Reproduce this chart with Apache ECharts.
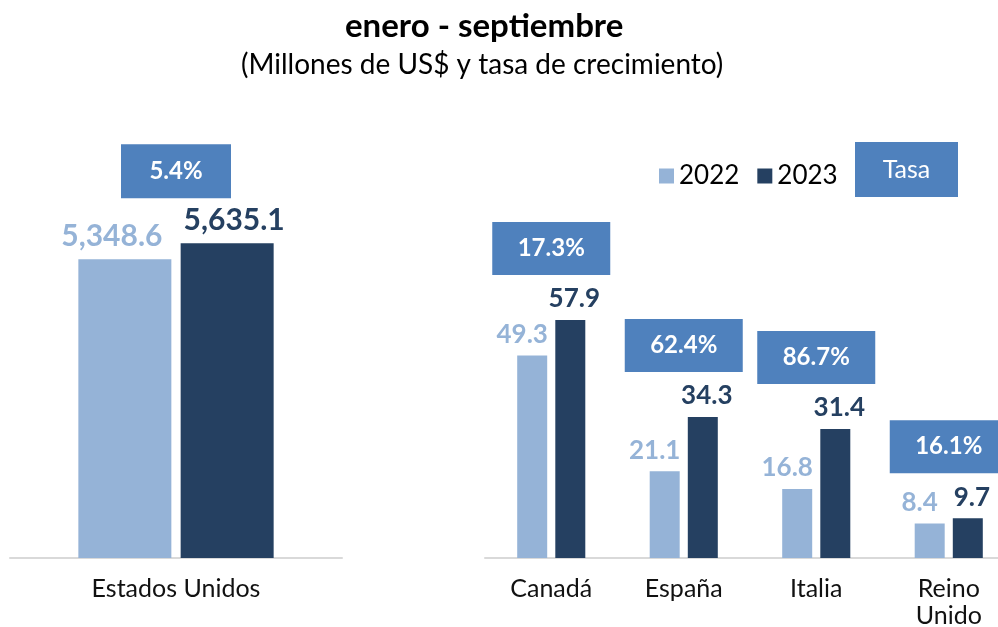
<!DOCTYPE html>
<html>
<head>
<meta charset="utf-8">
<script src="https://cdn.jsdelivr.net/npm/echarts@6/dist/echarts.min.js"></script>
<style>
  html, body { margin: 0; padding: 0; background: #fff; }
  #chart { width: 998px; height: 627px; }
</style>
</head>
<body>
<div id="chart"></div>
<script>
  // datos
  const catUS = ['Estados Unidos']
  const us2022 = [5348.6]
  const us2023 = [5635.1]
  const tasaUS = [5.4]

  const catOtros = ['Canadá', 'España', 'Italia', 'Reino\nUnido']
  const otros2022 = [49.3, 21.1, 16.8, 8.4]
  const otros2023 = [57.9, 34.3, 31.4, 9.7]
  const tasaOtros = [17.3, 62.4, 86.7, 16.1]

  const claro = '#95B3D7'
  const oscuro = '#254061'
  const azul = '#4F81BD'
  const fuente = 'Lato, "Noto Sans", sans-serif'

  const fmt = v => v.toLocaleString('en-US', { minimumFractionDigits: 1, maximumFractionDigits: 1 })

  function etiqueta(color, dx, size) {
    return {
      show: true,
      position: 'top',
      distance: 8,
      offset: [dx, 0],
      color: color,
      fontFamily: fuente,
      fontWeight: 'bold',
      fontSize: size,
      formatter: p => fmt(p.value)
    }
  }

  // caja de tasa encima de cada grupo de barras
  function cajaTasa(w, h) {
    return function (params, api) {
      const p = api.coord([api.value(0), api.value(1)])
      const cx = p[0]
      const bottom = p[1] - 45
      return {
        type: 'group',
        children: [{
          type: 'rect',
          shape: { x: cx - w / 2, y: bottom - h, width: w, height: h },
          style: { fill: azul }
        }, {
          type: 'text',
          style: {
            x: cx, y: bottom - h / 2,
            text: api.value(2).toFixed(1) + '%',
            fill: '#fff',
            font: 'bold 24px ' + fuente,
            align: 'center',
            verticalAlign: 'middle'
          }
        }]
      }
    }
  }

  const ejeX = (idx, data) => ({
    type: 'category',
    gridIndex: idx,
    data: data,
    axisTick: { show: false },
    axisLine: { lineStyle: { color: '#D9D9D9', width: 2 } },
    axisLabel: { color: '#111', fontFamily: fuente, fontSize: 25, margin: 17, lineHeight: 27 }
  })

  const dom = echarts.init(document.getElementById('chart'))
  const option = {
    animation: false,
    graphic: [{
      type: 'text',
      left: 345, top: 10,
      style: { text: 'enero - septiembre', fill: '#000', font: 'bold 33px ' + fuente }
    }, {
      type: 'text',
      left: 241, top: 51,
      style: { text: '(Millones de US$ y tasa de crecimiento)', fill: '#000', font: '28px ' + fuente }
    }, {
      type: 'group',
      left: 855, top: 142,
      children: [{
        type: 'rect',
        shape: { x: 0, y: 0, width: 103, height: 55 },
        style: { fill: azul }
      }, {
        type: 'text',
        style: { x: 51.5, y: 27.5, text: 'Tasa', fill: '#fff', font: '25px ' + fuente, align: 'center', verticalAlign: 'middle' }
      }]
    }],
    legend: {
      data: ['2022', '2023'],
      left: 654, top: 158,
      icon: 'rect',
      itemWidth: 15, itemHeight: 15,
      itemGap: 18,
      textStyle: { color: '#000', fontFamily: fuente, fontSize: 26 }
    },
    grid: [
      { left: 10, width: 332, top: 167, height: 391, outerBoundsMode: 'none' },
      { left: 485, width: 530, top: 147, height: 411, outerBoundsMode: 'none' }
    ],
    xAxis: [ejeX(0, catUS), ejeX(1, catOtros)],
    yAxis: [
      { type: 'value', gridIndex: 0, min: 0, max: 7000, show: false },
      { type: 'value', gridIndex: 1, min: 0, max: 100, show: false }
    ],
    series: [{
      name: '2022', type: 'bar', xAxisIndex: 0, yAxisIndex: 0,
      data: us2022, barWidth: 93, barGap: '10%',
      itemStyle: { color: claro },
      label: etiqueta(claro, -13, 30)
    }, {
      name: '2023', type: 'bar', xAxisIndex: 0, yAxisIndex: 0,
      data: us2023, barWidth: 93, barGap: '10%',
      itemStyle: { color: oscuro },
      label: etiqueta(oscuro, 7, 30)
    }, {
      name: '2022', type: 'bar', xAxisIndex: 1, yAxisIndex: 1,
      data: otros2022, barWidth: 30, barGap: '27%',
      itemStyle: { color: claro },
      label: etiqueta(claro, -10, 26)
    }, {
      name: '2023', type: 'bar', xAxisIndex: 1, yAxisIndex: 1,
      data: otros2023, barWidth: 30, barGap: '27%',
      itemStyle: { color: oscuro },
      label: etiqueta(oscuro, 4, 26)
    }, {
      type: 'custom', xAxisIndex: 0, yAxisIndex: 0, z: 5,
      renderItem: cajaTasa(110, 54),
      data: tasaUS.map((t, i) => [i, Math.max(us2022[i], us2023[i]), t])
    }, {
      type: 'custom', xAxisIndex: 1, yAxisIndex: 1, z: 5,
      renderItem: cajaTasa(118, 53),
      data: tasaOtros.map((t, i) => [i, Math.max(otros2022[i], otros2023[i]), t])
    }]
  }
  dom.setOption(option)
</script>
</body>
</html>
